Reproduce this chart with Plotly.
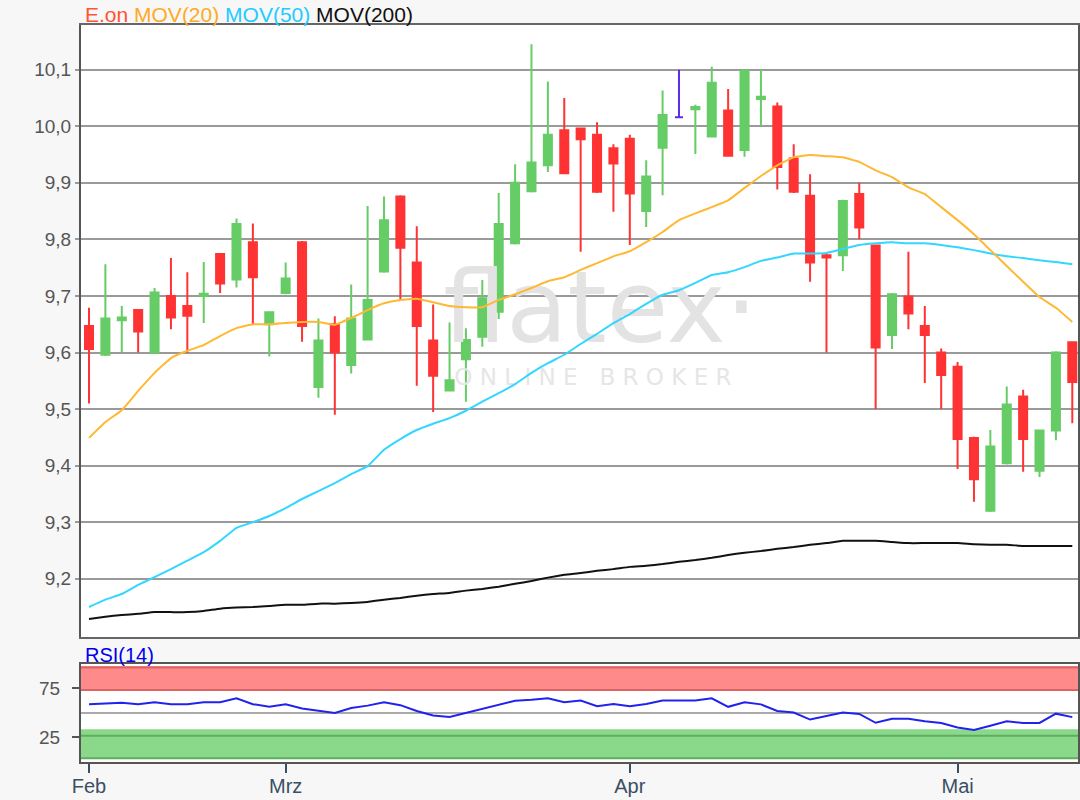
import plotly.graph_objects as go

# ---------------- data ----------------
idx = list(range(61))
open_ = [9.647, 9.596, 9.657, 9.675, 9.600, 9.700, 9.682, 9.700, 9.774, 9.729,
         9.795, 9.650, 9.705, 9.795, 9.539, 9.650, 9.578, 9.623, 9.743, 9.876,
         9.759, 9.621, 9.533, 9.588, 9.628, 9.672, 9.793, 9.885, 9.931, 9.993,
         9.996, 9.985, 9.961, 9.978, 9.850, 9.962, 10.016, 10.030, 9.982, 10.028,
         9.958, 10.048, 10.035, 9.943, 9.877, 9.772, 9.772, 9.880, 9.789, 9.631,
         9.699, 9.647, 9.600, 9.575, 9.449, 9.320, 9.404, 9.522, 9.391, 9.462,
         9.618]
high = [9.679, 9.756, 9.682, 9.677, 9.714, 9.767, 9.742, 9.760, 9.776, 9.837,
        9.828, 9.673, 9.759, 9.797, 9.660, 9.664, 9.720, 9.859, 9.876, 9.878,
        9.823, 9.685, 9.653, 9.643, 9.728, 9.882, 9.933, 10.145, 10.079, 10.050,
        9.998, 10.007, 9.968, 9.985, 9.940, 10.063, 10.100, 10.038, 10.105, 10.066,
        10.100, 10.100, 10.042, 9.968, 9.915, 9.774, 9.870, 9.900, 9.791, 9.705,
        9.778, 9.682, 9.607, 9.583, 9.451, 9.463, 9.540, 9.534, 9.464, 9.602,
        9.620]
low = [9.510, 9.594, 9.600, 9.600, 9.598, 9.641, 9.599, 9.652, 9.705, 9.715,
       9.650, 9.593, 9.703, 9.619, 9.520, 9.490, 9.563, 9.621, 9.741, 9.693,
       9.541, 9.495, 9.531, 9.513, 9.610, 9.659, 9.791, 9.883, 9.919, 9.915,
       9.778, 9.882, 9.849, 9.790, 9.822, 9.878, 10.016, 9.951, 9.980, 9.946,
       9.946, 10.001, 9.888, 9.882, 9.725, 9.600, 9.744, 9.800, 9.500, 9.606,
       9.641, 9.546, 9.500, 9.394, 9.336, 9.318, 9.402, 9.389, 9.380, 9.445,
       9.475]
close = [9.606, 9.660, 9.662, 9.637, 9.706, 9.662, 9.665, 9.704, 9.722, 9.827,
         9.733, 9.671, 9.731, 9.647, 9.621, 9.600, 9.660, 9.693, 9.834, 9.785,
         9.647, 9.559, 9.551, 9.622, 9.696, 9.827, 9.900, 9.936, 9.985, 9.917,
         9.977, 9.884, 9.934, 9.881, 9.911, 10.020, 10.016, 10.034, 10.077, 9.948,
         10.098, 10.052, 9.928, 9.884, 9.759, 9.768, 9.868, 9.821, 9.609, 9.703,
         9.669, 9.631, 9.560, 9.447, 9.376, 9.434, 9.508, 9.447, 9.462, 9.600,
         9.548]
unchanged_idx = [36]   # candle drawn in purple (no change)

mov20 = [9.449, 9.477, 9.498, 9.532, 9.564, 9.590, 9.603, 9.613, 9.629, 9.643,
         9.650, 9.650, 9.652, 9.654, 9.654, 9.649, 9.661, 9.675, 9.687, 9.693,
         9.695, 9.689, 9.682, 9.680, 9.680, 9.693, 9.703, 9.714, 9.726, 9.733,
         9.746, 9.758, 9.770, 9.779, 9.795, 9.813, 9.834, 9.846, 9.857, 9.869,
         9.891, 9.912, 9.931, 9.945, 9.949, 9.947, 9.945, 9.937, 9.922, 9.910,
         9.892, 9.880, 9.857, 9.834, 9.809, 9.781, 9.753, 9.725, 9.698, 9.679,
         9.654]
mov50 = [9.150, 9.163, 9.173, 9.189, 9.203, 9.217, 9.232, 9.247, 9.267, 9.290,
         9.300, 9.311, 9.325, 9.341, 9.355, 9.369, 9.385, 9.399, 9.428, 9.447,
         9.463, 9.474, 9.484, 9.497, 9.513, 9.528, 9.544, 9.564, 9.581, 9.596,
         9.615, 9.633, 9.652, 9.668, 9.686, 9.702, 9.710, 9.723, 9.737, 9.742,
         9.751, 9.762, 9.768, 9.775, 9.775, 9.776, 9.783, 9.790, 9.793, 9.795,
         9.793, 9.793, 9.790, 9.786, 9.781, 9.775, 9.770, 9.767, 9.763, 9.760,
         9.756]
mov200 = [9.129, 9.133, 9.136, 9.138, 9.141, 9.141, 9.141, 9.143, 9.147, 9.149,
          9.150, 9.152, 9.154, 9.154, 9.156, 9.156, 9.157, 9.159, 9.163, 9.166,
          9.170, 9.173, 9.175, 9.179, 9.182, 9.186, 9.191, 9.196, 9.202, 9.207,
          9.210, 9.214, 9.217, 9.221, 9.223, 9.226, 9.230, 9.233, 9.237, 9.242,
          9.246, 9.249, 9.253, 9.256, 9.260, 9.263, 9.267, 9.267, 9.267, 9.265,
          9.263, 9.263, 9.263, 9.263, 9.261, 9.260, 9.260, 9.258, 9.258, 9.258,
          9.258]
rsi = [58.8, 60.0, 60.5, 58.8, 60.9, 58.8, 58.8, 60.9, 60.9, 65.0,
       59.0, 56.5, 59.0, 54.6, 52.0, 50.0, 55.0, 57.5, 61.0, 58.0,
       52.0, 47.5, 46.0, 50.0, 54.0, 58.0, 62.5, 63.4, 65.0, 61.0,
       62.7, 57.0, 59.2, 57.0, 59.2, 62.7, 62.7, 62.7, 65.0, 56.3,
       60.9, 58.8, 52.0, 50.4, 43.3, 46.8, 50.4, 49.0, 40.0, 44.0,
       44.0, 41.5, 39.8, 35.2, 32.7, 37.0, 41.5, 39.8, 39.8, 49.3,
       45.8]

month_ticks = [0, 12, 33, 53]
month_labels = ["Feb", "Mrz", "Apr", "Mai"]
price_ticks = [9.2, 9.3, 9.4, 9.5, 9.6, 9.7, 9.8, 9.9, 10.0, 10.1]
rsi_ticks = [25, 75]

# ---------------- styling ----------------
FONT = "Liberation Sans"
GREEN = "#66cc66"
RED = "#ff3333"
PURPLE = "#5a2ee6"
C20 = "#ffb833"
C50 = "#33d6ff"
C200 = "#111111"

fig = go.Figure()

# watermark (drawn first so it sits under the data)
fig.add_trace(go.Scatter(x=[31.2], y=[9.662], mode="text", text=["flatex·"],
                         textfont=dict(family="DejaVu Sans", size=100, color="#e3e3e3"),
                         hoverinfo="skip", xaxis="x", yaxis="y"))
fig.add_trace(go.Scatter(x=[30.75], y=[9.552], mode="text",
                         text=["O N L I N E   B R O K E R"],
                         textfont=dict(family="DejaVu Sans", size=23, color="#e6e6e6"),
                         hoverinfo="skip", xaxis="x", yaxis="y"))

main_i = [i for i in idx if i not in unchanged_idx]
fig.add_trace(go.Candlestick(
    x=[idx[i] for i in main_i],
    open=[open_[i] for i in main_i], high=[high[i] for i in main_i],
    low=[low[i] for i in main_i], close=[close[i] for i in main_i],
    increasing=dict(line=dict(color=GREEN, width=2), fillcolor=GREEN),
    decreasing=dict(line=dict(color=RED, width=2), fillcolor=RED),
    xaxis="x", yaxis="y", hoverinfo="skip"))
fig.add_trace(go.Candlestick(
    x=[idx[i] for i in unchanged_idx],
    open=[open_[i] for i in unchanged_idx], high=[high[i] for i in unchanged_idx],
    low=[low[i] for i in unchanged_idx], close=[close[i] for i in unchanged_idx],
    increasing=dict(line=dict(color=PURPLE, width=2), fillcolor=PURPLE),
    decreasing=dict(line=dict(color=PURPLE, width=2), fillcolor=PURPLE),
    xaxis="x", yaxis="y", hoverinfo="skip"))

for vals, col in [(mov200, C200), (mov50, C50), (mov20, C20)]:
    fig.add_trace(go.Scatter(x=idx, y=vals, mode="lines",
                             line=dict(color=col, width=2, shape="spline", smoothing=0.3),
                             xaxis="x", yaxis="y", hoverinfo="skip"))

fig.add_trace(go.Scatter(x=idx, y=rsi, mode="lines",
                         line=dict(color="#2222ee", width=2),
                         xaxis="x2", yaxis="y2", hoverinfo="skip"))

# RSI zones
shapes = [
    dict(type="rect", xref="x2 domain", yref="y2", x0=0, x1=1, y0=72.8, y1=98,
         fillcolor="#ff8a8a", line=dict(width=0), layer="below"),
    dict(type="line", xref="x2 domain", yref="y2", x0=0, x1=1, y0=96.3, y1=96.3,
         line=dict(color="#dd6464", width=2), layer="below"),
    dict(type="line", xref="x2 domain", yref="y2", x0=0, x1=1, y0=73.5, y1=73.5,
         line=dict(color="#dd6464", width=2), layer="below"),
    dict(type="rect", xref="x2 domain", yref="y2", x0=0, x1=1, y0=3, y1=33.5,
         fillcolor="#8ad88a", line=dict(width=0), layer="below"),
    dict(type="line", xref="x2 domain", yref="y2", x0=0, x1=1, y0=26.8, y1=26.8,
         line=dict(color="#5fae5f", width=2), layer="below"),
    dict(type="line", xref="x2 domain", yref="y2", x0=0, x1=1, y0=3.8, y1=3.8,
         line=dict(color="#5fae5f", width=2), layer="below"),
    dict(type="line", xref="x2 domain", yref="y2", x0=0, x1=1, y0=50, y1=50,
         line=dict(color="#aaaaaa", width=2), layer="below"),
]

xr = [-0.488, 60.348]
fig.update_layout(
    width=1080, height=800,
    margin=dict(l=81, r=2, t=25, b=38, autoexpand=False),
    paper_bgcolor="#f7f7f7", plot_bgcolor="white",
    showlegend=False, separators=",.",
    font=dict(family=FONT, size=19, color="#555555"),
    shapes=shapes,
    xaxis=dict(domain=[0, 1], anchor="y", range=xr, showticklabels=False,
               showgrid=False, zeroline=False, showline=True, mirror=True,
               linecolor="#666666", linewidth=2, ticks="", automargin=False,
               rangeslider=dict(visible=False)),
    yaxis=dict(domain=[0.1696, 1], anchor="x", range=[9.097, 10.179],
               tickvals=price_ticks, tickformat=".1f", automargin=False,
               showgrid=True, gridcolor="#9a9a9a", gridwidth=2, zeroline=False,
               showline=True, mirror=True, linecolor="#555555", linewidth=2,
               ticks="outside", ticklen=4, tickcolor="#9a9a9a", tickwidth=2,
               tickfont=dict(family=FONT, size=19, color="#555555")),
    xaxis2=dict(domain=[0, 1], anchor="y2", matches="x", range=xr,
                tickvals=month_ticks, ticktext=month_labels, automargin=False,
                ticks="outside", ticklen=9, tickwidth=2, tickcolor="#3a4f63",
                tickfont=dict(family=FONT, size=20, color="#3a4f63"),
                ticklabelstandoff=-4,
                showgrid=False, zeroline=False, showline=True, mirror=True,
                linecolor="#555555", linewidth=2,
                rangeslider=dict(visible=False)),
    yaxis2=dict(domain=[0, 0.133], anchor="x2", range=[0, 100],
                tickvals=rsi_ticks, showgrid=False, zeroline=False, automargin=False,
                showline=True, mirror=True, linecolor="#555555", linewidth=2,
                ticks="outside", ticklen=7, tickwidth=2, tickcolor="#555555",
                ticklabelstandoff=8,
                tickfont=dict(family=FONT, size=19, color="#555555")),
    annotations=[
        dict(xref="paper", yref="paper", x=0.002, y=1.0149, xanchor="left", yanchor="middle",
             showarrow=False, font=dict(family=FONT, size=21),
             text=("<span style='color:#ff5533'>E.on</span> "
                   "<span style='color:#ffaa22'>MOV(20)</span> "
                   "<span style='color:#22ccff'>MOV(50)</span> "
                   "<span style='color:#111111'>MOV(200)</span>")),
        dict(xref="paper", yref="paper", x=0.002, y=0.1452, xanchor="left", yanchor="middle",
             showarrow=False, font=dict(family=FONT, size=20, color="#0000ee"),
             text="RSI(14)"),
    ],
)

fig.write_html("out.html", config={"displayModeBar": False})

# remove the browser's default page margin so the figure sits at the top-left corner
with open("out.html", "r", encoding="utf-8") as f:
    html = f.read()
html = html.replace("<head>", "<head><style>html,body{margin:0;padding:0;background:#f7f7f7;}</style>", 1)
with open("out.html", "w", encoding="utf-8") as f:
    f.write(html)
